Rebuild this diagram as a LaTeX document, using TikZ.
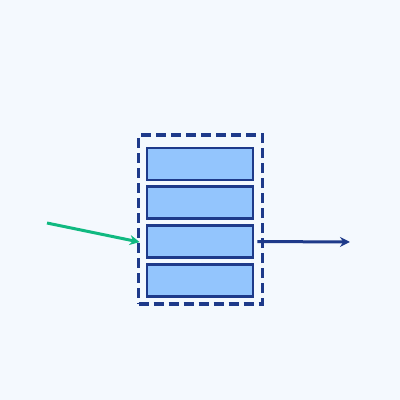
\documentclass[tikz,border=0pt]{standalone}
\usepackage{tikz}
\usetikzlibrary{positioning}
\usetikzlibrary{arrows.meta}

\definecolor{bgpale}{HTML}{F4F9FE}
\definecolor{navy}{HTML}{1E3A8A}
\definecolor{cellblue}{HTML}{93C5FD}
\definecolor{ingreen}{HTML}{10B981}

\tikzset{
  slot/.style={draw=navy, fill=cellblue, line width=2.6pt, minimum width=106pt, minimum height=32pt, inner sep=0pt},
  frame/.style={draw=navy, line width=3.5pt, dash pattern=on 10pt off 5pt, minimum width=124pt, minimum height=169pt, inner sep=0pt},
  flow/.style={line width=3pt, -{Stealth[length=10pt,width=10pt]}}
}

\begin{document}
\begin{tikzpicture}[x=1pt,y=-1pt]
  \fill[bgpale] (0,0) rectangle (400,400);
  \useasboundingbox (0,0) rectangle (400,400);

  % buffer
  \node[frame] (buf) at (200.5,219.5) {};
  \node[slot] (s1) at (200,164) {};
  \node[slot] (s2) at (200,202.5) {};
  \node[slot] (s3) at (200,241.5) {};
  \node[slot] (s4) at (200,280.5) {};

  % in and out
  \coordinate (src) at (47,223);
  \coordinate (dst) at (350,242);
  \draw[flow, ingreen, shorten >=-3pt] (src) -- (buf.west |- s3);
  \draw[flow, navy] (s3.east) ++(3,0) coordinate (tap) (tap) -- (dst);
\end{tikzpicture}
\end{document}
